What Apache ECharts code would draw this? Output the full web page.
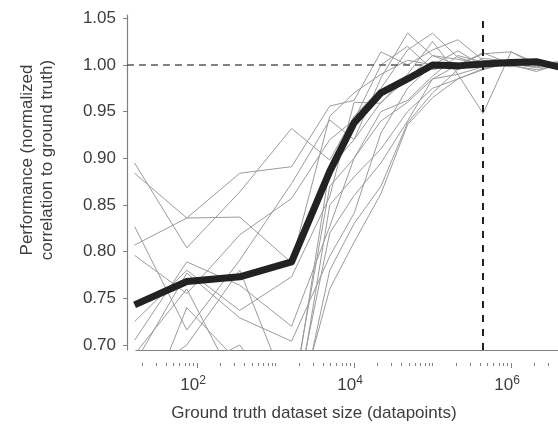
<!DOCTYPE html>
<html>
<head>
<meta charset="utf-8">
<script src="https://cdn.jsdelivr.net/npm/echarts@6/dist/echarts.min.js"></script>
<style>
html,body{margin:0;padding:0;background:#fff;}
#chart{width:558px;height:438px;}
</style>
</head>
<body>
<div id="chart"></div>
<script>
// ---- data ----
var sizes = [16, 74, 350, 1600, 4900, 10000, 22000, 48000, 100000, 210000, 440000, 1000000, 2100000, 4500000];
var runs = [
  [0.895, 0.804, 0.864, 0.932, 0.898, 0.945, 0.975, 1.016, 1.034, 1.008, 1.000, 1.002, 0.999, 1.001],
  [0.884, 0.836, 0.884, 0.891, 0.956, 0.962, 1.014, 1.000, 1.016, 1.027, 1.005, 1.000, 1.003, 0.998],
  [0.827, 0.716, 0.791, 0.873, 0.941, 0.920, 0.986, 1.034, 1.010, 1.000, 1.012, 1.014, 1.000, 0.997],
  [0.807, 0.836, 0.837, 0.788, 0.945, 0.970, 0.990, 1.005, 1.000, 1.015, 0.999, 1.003, 1.001, 1.004],
  [0.796, 0.755, 0.818, 0.857, 0.920, 0.941, 1.000, 1.020, 0.995, 1.000, 1.013, 1.001, 0.998, 1.002],
  [0.725, 0.780, 0.737, 0.773, 0.859, 0.960, 0.959, 0.990, 1.025, 0.990, 0.948, 1.014, 1.002, 0.999],
  [0.705, 0.789, 0.764, 0.720, 0.827, 0.900, 0.950, 0.962, 0.988, 1.010, 1.003, 0.999, 0.995, 1.000],
  [0.680, 0.777, 0.729, 0.704, 0.795, 0.841, 0.927, 0.975, 1.000, 0.995, 1.007, 1.004, 1.000, 0.996],
  [0.660, 0.700, 0.780, 0.640, 0.870, 0.900, 0.940, 0.960, 0.985, 0.990, 0.998, 1.000, 0.993, 1.002],
  [0.650, 0.690, 0.660, 0.600, 0.850, 0.880, 0.910, 0.950, 0.975, 0.985, 0.995, 1.003, 1.005, 0.999],
  [0.640, 0.670, 0.700, 0.620, 0.820, 0.860, 0.895, 0.940, 0.985, 1.000, 1.002, 0.998, 1.001, 1.003],
  [0.620, 0.650, 0.690, 0.590, 0.780, 0.830, 0.870, 0.938, 0.970, 0.995, 1.004, 1.001, 0.997, 1.000],
  [0.600, 0.740, 0.680, 0.610, 0.760, 0.810, 0.862, 0.936, 0.965, 0.985, 0.996, 1.002, 1.000, 0.998],
  [0.690, 0.760, 0.650, 0.630, 0.890, 0.920, 0.960, 0.985, 1.010, 1.006, 1.001, 0.999, 1.002, 1.001]
];
var meanPerf = [0.743, 0.768, 0.773, 0.789, 0.886, 0.938, 0.970, 0.985, 1.000, 0.999, 1.001, 1.0025, 1.0035, 0.997];
var referenceLevel = 1.0;
var totalSize = 430000;
var yTicks = [0.70, 0.75, 0.80, 0.85, 0.90, 0.95, 1.00, 1.05];
var xMajorTicks = [100, 10000, 1000000];
var xTitle = 'Ground truth dataset size (datapoints)';
var yTitle = 'Performance (normalized\ncorrelation to ground truth)';

// ---- build ----
var xMin = 12.81, xMax = 3.963e6, yMin = 0.6946, yMax = 1.0535;
var xMinorTicks = [];
for (var e = 1; e <= 6; e++) {
  for (var k = 1; k <= 9; k++) {
    var v = k * Math.pow(10, e);
    if (xMajorTicks.indexOf(v) < 0 && v > xMin && v < xMax) xMinorTicks.push(v);
  }
}
var FONT = '"Liberation Sans", Arial, Helvetica, sans-serif';
var TEXT = '#3d3d3d';
var AX = '#808080';

function pairs(ys) { return sizes.map(function (s, i) { return [s, ys[i]]; }); }

var series = runs.map(function (r) {
  return {
    type: 'line', xAxisIndex: 0, yAxisIndex: 0, data: pairs(r),
    symbol: 'none', silent: true, clip: true, animation: false,
    lineStyle: { color: '#9b9b9b', width: 1 }
  };
});
series.push({
  type: 'line', xAxisIndex: 0, yAxisIndex: 0, data: pairs(meanPerf),
  symbol: 'none', silent: true, clip: true, animation: false, z: 5,
  lineStyle: { color: '#222222', width: 7, join: 'round' },
  markLine: {
    silent: true, symbol: 'none', animation: false, label: { show: false },
    data: [
      { yAxis: referenceLevel, lineStyle: { color: '#5a5a5a', width: 1.5, type: [7, 5] } },
      { xAxis: totalSize, lineStyle: { color: '#222222', width: 2, type: [7, 7] } }
    ]
  }
});

var chart = echarts.init(document.getElementById('chart'), null, { renderer: 'canvas' });
chart.setOption({
  animation: false,
  backgroundColor: '#ffffff',
  grid: [
    { left: 127, right: 0, top: 15, bottom: 88 },
    { left: 136, right: 0, top: 15, bottom: 88 }
  ],
  xAxis: [
    {
      type: 'log', logBase: 10, gridIndex: 0, min: xMin, max: xMax, position: 'bottom', offset: 13,
      axisLine: { show: false },
      splitLine: { show: false },
      axisTick: { show: true, customValues: xMajorTicks, length: 5, lineStyle: { color: AX, width: 1 } },
      axisLabel: {
        show: true, customValues: xMajorTicks, margin: 12, padding: [0, 8, 0, 0],
        formatter: function (v) { return '{b|10}{s|' + Math.round(Math.log10(v)) + '}'; },
        rich: {
          b: { fontSize: 17, fontFamily: FONT, color: TEXT },
          s: { fontSize: 12, fontFamily: FONT, color: TEXT, verticalAlign: 'top', padding: [0, 0, 9, 0] }
        }
      }
    },
    {
      type: 'log', logBase: 10, gridIndex: 0, min: xMin, max: xMax, position: 'bottom', offset: 13,
      axisLine: { show: false }, splitLine: { show: false },
      axisTick: { show: true, customValues: xMinorTicks, length: 3, lineStyle: { color: AX, width: 1 } },
      axisLabel: { show: false }
    },
    {
      type: 'value', gridIndex: 1, min: 0, max: 1, position: 'bottom', offset: 13,
      axisLine: { show: true, lineStyle: { color: AX, width: 1.2 } },
      axisTick: { show: false }, axisLabel: { show: false }, splitLine: { show: false }
    }
  ],
  yAxis: [
    {
      type: 'value', gridIndex: 0, min: yMin, max: yMax, position: 'left', offset: 0,
      axisLine: { show: true, lineStyle: { color: AX, width: 1.2 } },
      splitLine: { show: false },
      axisTick: { show: true, customValues: yTicks, length: 4, lineStyle: { color: AX, width: 1 } },
      axisLabel: {
        show: true, customValues: yTicks, margin: 11,
        formatter: function (v) { return v.toFixed(2); },
        fontSize: 17, fontFamily: FONT, color: TEXT
      }
    },
    {
      type: 'value', gridIndex: 1, min: 0, max: 1, show: false
    }
  ],
  graphic: [
    {
      type: 'text', x: 314, y: 413,
      style: { text: xTitle, font: '17px ' + FONT, fill: TEXT, align: 'center', verticalAlign: 'middle' }
    },
    {
      type: 'text', rotation: Math.PI / 2, x: 37, y: 160,
      style: { text: yTitle, font: '17px ' + FONT, fill: TEXT, align: 'center', verticalAlign: 'middle', lineHeight: 20 }
    }
  ],
  series: series
});
</script>
</body>
</html>
